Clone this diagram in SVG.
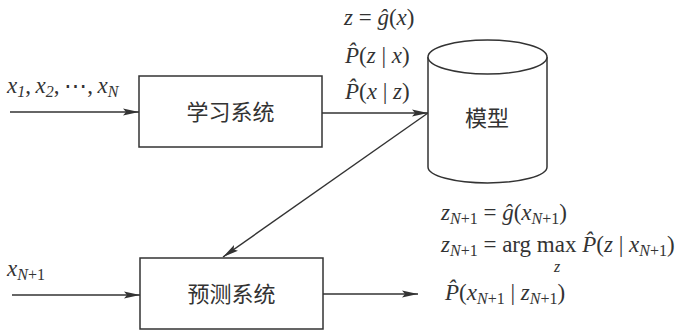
<svg xmlns="http://www.w3.org/2000/svg" width="678" height="331" viewBox="0 0 678 331">
<style>
.box{fill:#fff;stroke:#333;stroke-width:1.5}
.ln{fill:none;stroke:#333;stroke-width:1.4}
.cn{font-family:"Noto Sans CJK SC","Noto Sans CJK JP",sans-serif;font-size:22px;fill:#333;text-anchor:middle}
.m{font-family:'Liberation Serif','DejaVu Serif',serif;font-size:23px;fill:#333}
.i{font-style:italic}
.s{font-size:16px;font-style:italic}
.u{font-size:16px;font-style:normal}
</style>
<defs>
<marker id="ah" viewBox="0 0 16 8" refX="16" refY="4" markerWidth="16" markerHeight="8" markerUnits="userSpaceOnUse" orient="auto">
<path d="M0,0.5 L16,4 L0,7.5 L3,4 Z" fill="#333"/>
</marker>
</defs>
<rect width="678" height="331" fill="#fff"/>
<g id="connectors">
<line class="ln" x1="10" y1="112" x2="139" y2="112" marker-end="url(#ah)"/>
<line class="ln" x1="322" y1="113" x2="428" y2="113" marker-end="url(#ah)"/>
<line class="ln" x1="428" y1="113" x2="223" y2="257" marker-end="url(#ah)"/>
<line class="ln" x1="12" y1="295" x2="140" y2="295" marker-end="url(#ah)"/>
<line class="ln" x1="323" y1="294" x2="418" y2="294" marker-end="url(#ah)"/>
</g>
<g id="learn">
<rect class="box" x="139" y="76" width="183" height="71"/>
<text class="cn" x="230.5" y="120">学习系统</text>
</g>
<g id="predict">
<rect class="box" x="140" y="258" width="183" height="71"/>
<text class="cn" x="231.5" y="302">预测系统</text>
</g>
<g id="model">
<path class="box" d="M428,57 L428,167 A59.5,16 0 0 0 547,167 L547,57"/>
<ellipse class="box" cx="487.5" cy="57" rx="59.5" ry="17"/>
<text class="cn" x="487" y="126">模型</text>
</g>
<g id="labels">
<text class="m" x="7" y="93"><tspan class="i">x</tspan><tspan class="s" dy="4">1</tspan><tspan dy="-4">,&#x2009;</tspan><tspan class="i">x</tspan><tspan class="s" dy="4">2</tspan><tspan dy="-4">,&#x2009;⋯,&#x2009;</tspan><tspan class="i">x</tspan><tspan class="s" dy="4">N</tspan></text>
<text class="m" x="344" y="25"><tspan class="i">z</tspan> = <tspan class="i">ĝ</tspan>(<tspan class="i">x</tspan>)</text>
<text class="m" x="345" y="63"><tspan class="i">P̂</tspan>(<tspan class="i">z</tspan> | <tspan class="i">x</tspan>)</text>
<text class="m" x="345" y="99"><tspan class="i">P̂</tspan>(<tspan class="i">x</tspan> | <tspan class="i">z</tspan>)</text>
<text class="m" x="7" y="276"><tspan class="i">x</tspan><tspan class="s" dy="4">N</tspan><tspan class="u">+1</tspan></text>
<text class="m" x="441" y="220"><tspan class="i">z</tspan><tspan class="s" dy="4">N</tspan><tspan class="u">+1</tspan><tspan dy="-4"> = </tspan><tspan class="i">ĝ</tspan>(<tspan class="i">x</tspan><tspan class="s" dy="4">N</tspan><tspan class="u">+1</tspan><tspan dy="-4">)</tspan></text>
<text class="m" x="441" y="252"><tspan class="i">z</tspan><tspan class="s" dy="4">N</tspan><tspan class="u">+1</tspan><tspan dy="-4"> = arg max </tspan><tspan class="i">P̂</tspan>(<tspan class="i">z</tspan> | <tspan class="i">x</tspan><tspan class="s" dy="4">N</tspan><tspan class="u">+1</tspan><tspan dy="-4">)</tspan></text>
<text class="m s" x="554" y="272">z</text>
<text class="m" x="445" y="300"><tspan class="i">P̂</tspan>(<tspan class="i">x</tspan><tspan class="s" dy="4">N</tspan><tspan class="u">+1</tspan><tspan dy="-4"> | </tspan><tspan class="i">z</tspan><tspan class="s" dy="4">N</tspan><tspan class="u">+1</tspan><tspan dy="-4">)</tspan></text>
</g>
</svg>
